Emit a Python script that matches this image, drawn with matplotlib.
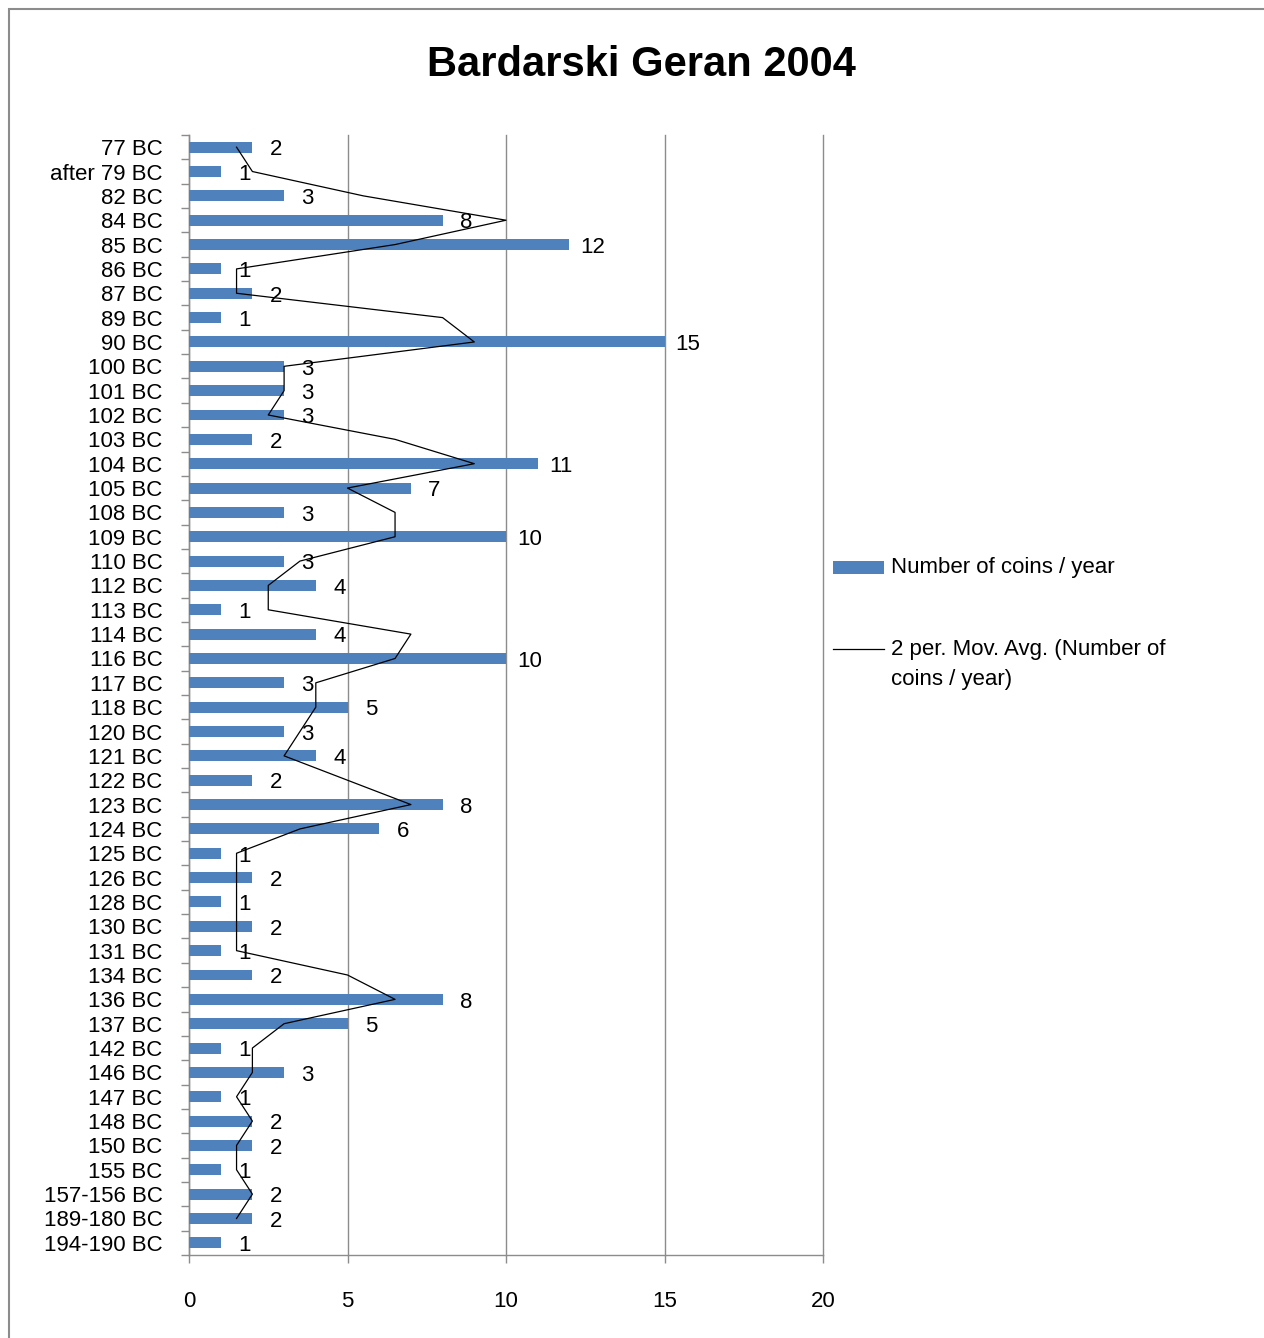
#!/usr/bin/env python3
"""Bardarski Geran 2004: coins per year, horizontal bars with 2-period moving average."""

import numpy as np
import matplotlib.pyplot as plt
from matplotlib.patches import Rectangle
from matplotlib.lines import Line2D

plt.rcParams["font.family"] = ["Liberation Sans", "DejaVu Sans"]

# Categories listed top to bottom as in the chart
years = ["77 BC", "after 79 BC", "82 BC", "84 BC", "85 BC", "86 BC", "87 BC",
         "89 BC", "90 BC", "100 BC", "101 BC", "102 BC", "103 BC", "104 BC",
         "105 BC", "108 BC", "109 BC", "110 BC", "112 BC", "113 BC", "114 BC",
         "116 BC", "117 BC", "118 BC", "120 BC", "121 BC", "122 BC", "123 BC",
         "124 BC", "125 BC", "126 BC", "128 BC", "130 BC", "131 BC", "134 BC",
         "136 BC", "137 BC", "142 BC", "146 BC", "147 BC", "148 BC", "150 BC",
         "155 BC", "157-156 BC", "189-180 BC", "194-190 BC"]
coins = [2, 1, 3, 8, 12, 1, 2, 1, 15, 3, 3, 3, 2, 11, 7, 3, 10, 3, 4, 1, 4,
         10, 3, 5, 3, 4, 2, 8, 6, 1, 2, 1, 2, 1, 2, 8, 5, 1, 3, 1, 2, 2, 1,
         2, 2, 1]
x_ticks = [0, 5, 10, 15, 20]
legend_labels = ["Number of coins / year", "2 per. Mov. Avg. (Number of\ncoins / year)"]

bar_color = "#4F81BD"
grey = "#8C8C8C"
W, H = 1264, 1338

# Excel plots the first category at the bottom: reverse order
cats = years[::-1]
vals = np.array(coins[::-1], dtype=float)
pos = np.arange(len(cats))

# 2-period moving average (starts at second point)
mov = (vals[1:] + vals[:-1]) / 2.0

fig = plt.figure(figsize=(W / 100, H / 100), dpi=100)
ax = fig.add_axes([189 / W, 1 - 1255 / H, (823 - 189) / W, (1255 - 135) / H])

ax.barh(pos, vals, height=0.45, color=bar_color, zorder=3)
ax.plot(mov, pos[1:], color="black", linewidth=0.9, zorder=4)

for p, v in zip(pos, vals):
    ax.annotate(f"{int(v)}", (v, p), xytext=(17, -2), textcoords="offset points",
                ha="center", va="center", fontsize=16, color="black", zorder=5)

ax.set_xlim(0, 20)
ax.set_ylim(-0.5, len(cats) - 0.5)
ax.set_xticks(x_ticks)
ax.set_xticklabels([str(t) for t in x_ticks], fontsize=16)
ax.set_yticks(pos)
ax.set_yticklabels(cats, fontsize=16)
ax.set_yticks(np.arange(len(cats) + 1) - 0.5, minor=True)

ax.grid(axis="x", color=grey, linewidth=1, zorder=0)
for gl in ax.get_xgridlines():
    gl.set_clip_on(False)
ax.tick_params(axis="y", which="major", length=0, pad=19)
ax.tick_params(axis="y", which="minor", length=6, width=1, color=grey, direction="out")
ax.tick_params(axis="x", length=6, width=1, color=grey, direction="out", pad=20)
for side in ["top", "right"]:
    ax.spines[side].set_visible(False)
for side in ["left", "bottom"]:
    ax.spines[side].set_color(grey)
    ax.spines[side].set_linewidth(1)

fig.text(641 / W, 1 - 65 / H, "Bardarski Geran 2004", ha="center", va="center",
         fontsize=30, fontweight="bold")

# Legend drawn by hand to keep Excel's layout (line handle beside first text line)
fig.patches.append(Rectangle((833 / W, 1 - 574 / H), 51 / W, 13 / H,
                             transform=fig.transFigure, facecolor=bar_color,
                             edgecolor="none"))
fig.text(891 / W, 1 - 567 / H, legend_labels[0], ha="left", va="center", fontsize=16)
fig.lines.append(Line2D([833 / W, 884 / W], [1 - 649 / H, 1 - 649 / H],
                        transform=fig.transFigure, color="black", linewidth=0.9))
fig.text(891 / W, 1 - 639 / H, legend_labels[1], ha="left", va="top", fontsize=16,
         linespacing=1.55)

# Chart area border (runs off the right and bottom edges)
fig.patches.append(Rectangle((9 / W, -0.1), 1.2, 1 - 9 / H + 0.1,
                             transform=fig.transFigure, fill=False,
                             edgecolor=grey, linewidth=1.5))

fig.savefig("out.png", dpi=100)
